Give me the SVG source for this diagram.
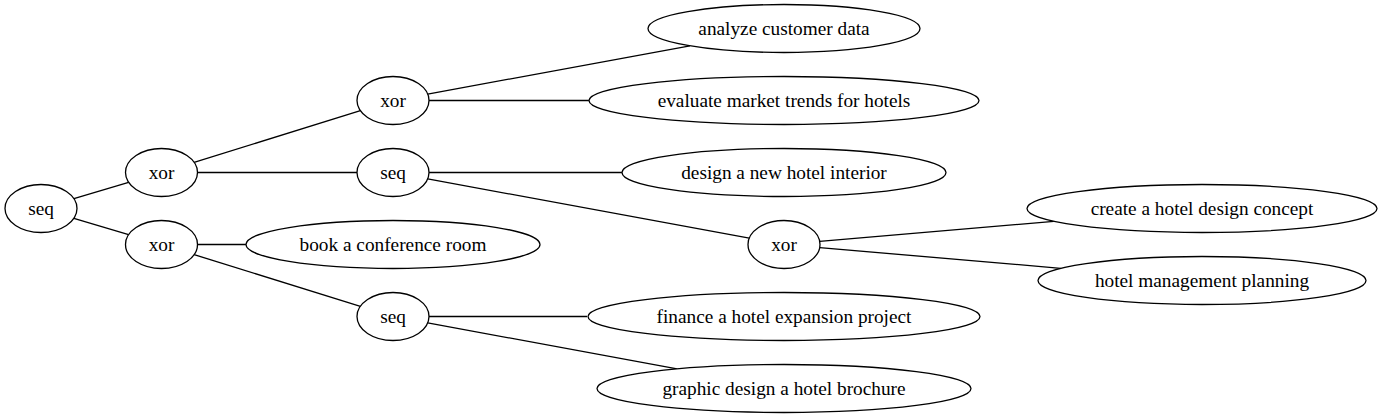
<svg xmlns="http://www.w3.org/2000/svg" width="1383" height="419" viewBox="0 0 1383 419">
<style>
ellipse{fill:#fff;stroke:#000;stroke-width:1.3}
line{stroke:#000;stroke-width:1.3}
text{font-size:19.3px;text-anchor:middle;fill:#000}
</style>
<rect width="1383" height="419" fill="#fff"/>
<g id="edges">
<line x1="73.9" y1="198.7" x2="128.6" y2="182.3"/>
<line x1="73.9" y1="218.3" x2="128.6" y2="234.7"/>
<line x1="194.1" y1="162.4" x2="360.4" y2="110.6"/>
<line x1="197.5" y1="172.5" x2="357" y2="172.5"/>
<line x1="197.5" y1="244.5" x2="246" y2="244.5"/>
<line x1="194.1" y1="254.6" x2="360.4" y2="306.4"/>
<line x1="427.7" y1="94.1" x2="689.9" y2="45.8"/>
<line x1="429" y1="100.5" x2="589" y2="100.5"/>
<line x1="429" y1="172.5" x2="622" y2="172.5"/>
<line x1="427.7" y1="178.9" x2="749.3" y2="238.1"/>
<line x1="819.7" y1="241.4" x2="1053.8" y2="221.3"/>
<line x1="819.7" y1="247.6" x2="1060.7" y2="268.3"/>
<line x1="429" y1="316.5" x2="587" y2="316.5"/>
<line x1="427.7" y1="322.9" x2="677.1" y2="368.8"/>
</g>
<g id="nodes" font-family="'Liberation Serif', 'DejaVu Serif', serif">
<g id="n_root"><ellipse cx="41" cy="208.5" rx="36" ry="24"/><text x="41" y="215">seq</text></g>
<g id="n_xor1"><ellipse cx="161.5" cy="172.5" rx="36" ry="24"/><text x="161.5" y="179">xor</text></g>
<g id="n_xor2"><ellipse cx="161.5" cy="244.5" rx="36" ry="24"/><text x="161.5" y="251">xor</text></g>
<g id="n_xor3"><ellipse cx="393" cy="100.5" rx="36" ry="24"/><text x="393" y="107">xor</text></g>
<g id="n_seq2"><ellipse cx="393" cy="172.5" rx="36" ry="24"/><text x="393" y="179">seq</text></g>
<g id="n_book"><ellipse cx="393" cy="244.5" rx="147" ry="24"/><text x="393" y="251">book a conference room</text></g>
<g id="n_seq3"><ellipse cx="393" cy="316.5" rx="36" ry="24"/><text x="393" y="323">seq</text></g>
<g id="n_analyze"><ellipse cx="784" cy="28.5" rx="136" ry="24"/><text x="784" y="35">analyze customer data</text></g>
<g id="n_evaluate"><ellipse cx="784" cy="100.5" rx="195" ry="24"/><text x="784" y="107">evaluate market trends for hotels</text></g>
<g id="n_design"><ellipse cx="784" cy="172.5" rx="162" ry="24"/><text x="784" y="179">design a new hotel interior</text></g>
<g id="n_xor4"><ellipse cx="784" cy="244.5" rx="36" ry="24"/><text x="784" y="251">xor</text></g>
<g id="n_finance"><ellipse cx="784" cy="316.5" rx="196" ry="24"/><text x="784" y="323">finance a hotel expansion project</text></g>
<g id="n_graphic"><ellipse cx="784" cy="388.5" rx="187" ry="24"/><text x="784" y="395">graphic design a hotel brochure</text></g>
<g id="n_create"><ellipse cx="1202" cy="208.5" rx="175" ry="24"/><text x="1202" y="215">create a hotel design concept</text></g>
<g id="n_mgmt"><ellipse cx="1202" cy="280.5" rx="164" ry="24"/><text x="1202" y="287">hotel management planning</text></g>
</g>
</svg>
